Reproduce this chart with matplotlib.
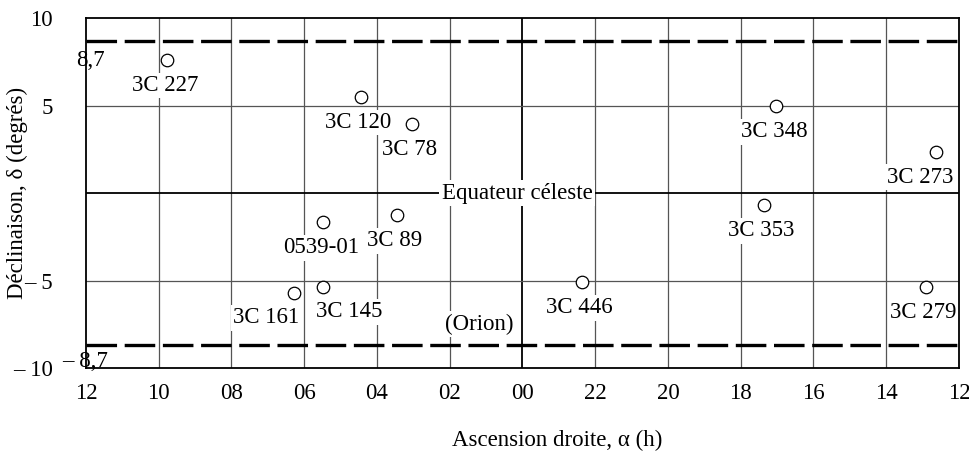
import numpy as np
import matplotlib
matplotlib.use("Agg")
import matplotlib.pyplot as plt

plt.rcParams['font.family'] = ['Liberation Serif', 'DejaVu Serif']
plt.rcParams['lines.scale_dashes'] = False

# sources: name, right ascension (h), declination (deg)
names = ['3C 227', '3C 120', '3C 78', '0539-01', '3C 89', '3C 161', '3C 145',
         '3C 446', '3C 348', '3C 273', '3C 353', '3C 279']
ra_h = [9.77, 4.45, 3.04, 5.49, 3.46, 6.29, 5.49, 22.37, 17.02, 12.62, 17.37, 12.92]
dec_deg = [7.6, 5.5, 3.94, -1.66, -1.26, -5.71, -5.37, -5.09, 4.97, 2.34, -0.69, -5.37]

tick_hours = [12, 10, 8, 6, 4, 2, 0, 22, 20, 18, 16, 14, 12]
tick_labels = ['12', '10', '08', '06', '04', '02', '00', '22', '20', '18', '16', '14', '12']
y_ticks = [10, 5, -5, -10]
y_tick_labels = ['10', '5', '\u2013 5', '\u2013 10']
band_limit = 8.7

FS = 16.5

# label offsets in points (dx, dy) relative to each circle
label_offsets = {'3C 161': (-20, -18), '3C 145': (19, -18), '3C 273': (-12, -18)}


def ra_to_x(h):
    # right ascension runs from 12h (left) through 00h (centre) back to 12h (right)
    h = np.asarray(h, dtype=float)
    return np.where(h <= 12, 12 - h, 36 - h)


fig = plt.figure(figsize=(9.7, 4.61), dpi=100)
ax = fig.add_axes([86 / 970, 1 - 368 / 461, 873 / 970, 350 / 461])

ax.set_xlim(0, 24)
ax.set_ylim(-10, 10)

# grid
xt = np.arange(0, 25, 2)
for x in xt[1:-1]:
    if x == 12:
        ax.axvline(x, color='black', lw=1.3, zorder=1)
    else:
        ax.axvline(x, color='#555555', lw=0.9, zorder=1)
for y in [5, -5]:
    ax.axhline(y, color='#555555', lw=0.9, zorder=1)
ax.axhline(0, color='black', lw=1.3, zorder=1)

for y in [band_limit, -band_limit]:
    ax.axhline(y, color='black', lw=2.4, dashes=(22, 5.5), zorder=2)

ax.set_xticks(ra_to_x(tick_hours[1:-1]).tolist() + [0, 24])
ax.set_xticklabels(tick_labels[1:-1] + [tick_labels[0], tick_labels[-1]])
ax.set_yticks(y_ticks)
ax.set_yticklabels(y_tick_labels)
ax.tick_params(axis='both', length=0, labelsize=FS)
ax.tick_params(axis='x', pad=11)
ax.tick_params(axis='y', pad=24)

for s in ax.spines.values():
    s.set_linewidth(1.3)
    s.set_zorder(6)

xs = ra_to_x(ra_h)
ax.plot(xs, dec_deg, 'o', ms=9, mfc='white', mec='black', mew=0.9, zorder=5)

for n, x, y in zip(names, xs, dec_deg):
    dx, dy = label_offsets.get(n, (-1.5, -18.5))
    ax.annotate(n, (x, y), xytext=(dx, dy), textcoords='offset points',
                ha='center', va='center', fontsize=FS, zorder=4,
                bbox=dict(boxstyle='square,pad=0.1', fc='white', ec='none'))

ax.text(11.85, 0, 'Equateur c\u00e9leste', ha='center', va='center', fontsize=FS,
        zorder=4, bbox=dict(boxstyle='square,pad=0.1', fc='white', ec='none'))
ax.text(ra_to_x(1.2), -7.5, '(Orion)', ha='center', va='center', fontsize=FS,
        zorder=4, bbox=dict(boxstyle='square,pad=0.1', fc='white', ec='none'))

ax.text(0.11, 7.6, '8,7', ha='center', va='center', fontsize=FS, clip_on=False)
ax.text(-0.03, -9.65, '\u2013 8,7', ha='center', va='center', fontsize=FS, clip_on=False)

ax.set_ylabel('D\u00e9clinaison, \u03b4 (degr\u00e9s)', fontsize=FS)
ax.yaxis.set_label_coords(-58 / 873, 0.5)
ax.set_xlabel('Ascension droite, \u03b1 (h)', fontsize=FS)
ax.xaxis.set_label_coords((557 - 86) / 873, -(430 - 368) / 350)

fig.savefig('out.png', dpi=100)
